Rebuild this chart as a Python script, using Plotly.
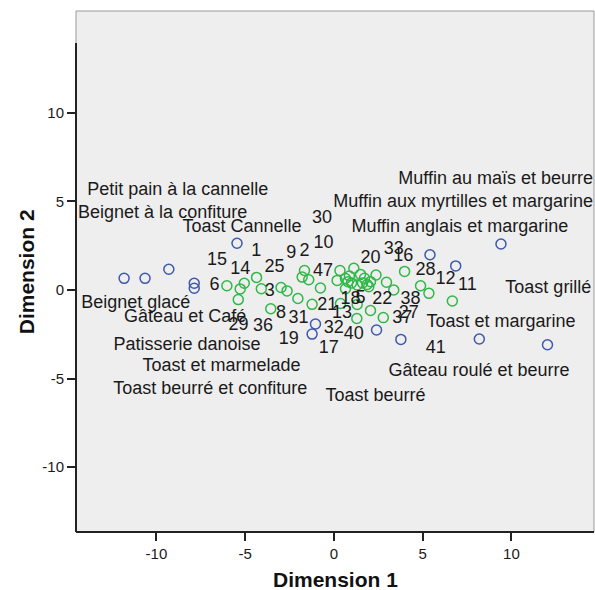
import plotly.graph_objects as go

# objets (produits) - points bleus
food_names = ['Toast Cannelle', 'Petit pain à la cannelle', 'Beignet à la confiture', 'Beignet glacé',
              'Gâteau et Café', 'Patisserie danoise', 'Toast et marmelade', 'Toast beurré et confiture',
              'Muffin au maïs et beurre', 'Muffin aux myrtilles et margarine', 'Muffin anglais et margarine',
              'Toast grillé', 'Toast et margarine', 'Gâteau roulé et beurre', 'Toast beurré']
food_x = [-5.46, -9.30, -10.64, -11.82, -7.87, -7.87, -1.04, -1.23, 9.41, 6.86, 5.41, 12.03, 8.19, 3.77, 2.40]
food_y = [2.64, 1.17, 0.66, 0.66, 0.10, 0.38, -1.92, -2.49, 2.60, 1.36, 1.99, -3.09, -2.77, -2.79, -2.26]
# positions des étiquettes (placées comme dans SPSS)
food_lab_x = [-5.18, -8.80, -9.65, -11.16, -8.38, -8.28, -6.33, -6.97, 9.11, 7.28, 7.09, 12.08, 9.41, 8.17, 2.34]
food_lab_y = [3.54, 5.61, 4.33, -0.75, -1.54, -3.16, -4.33, -5.61, 6.25, 4.93, 3.52, 0.10, -1.85, -4.61, -5.99]

# sujets - points verts
subj_x = [-6.03, -5.28, -5.05, -5.39, -4.36, -4.09, -3.56, -2.98, -2.64, -2.03, -1.66, -1.79, -1.42, -0.76,
          -1.23, 0.34, 0.18, 0.65, 1.12, 0.79, 1.50, 0.65, 1.31, 1.87, 1.96, 1.72, 2.37, 0.37, 1.31, 1.29,
          2.06, 2.78, 2.96, 3.37, 3.98, 4.88, 5.35, 6.67, 2.06, 0.99, 1.61, 0.87]
subj_y = [0.24, 0.06, 0.38, -0.54, 0.71, 0.07, -1.06, 0.14, -0.05, -0.48, 1.10, 0.73, 0.58, 0.11,
          -0.81, 1.10, 0.54, 0.65, 1.23, 0.47, 0.88, 0.07, 0.28, 0.31, 0.19, 0.66, 0.85, -0.76, -0.82, -1.61,
          -1.16, -1.56, 0.44, 0.00, 1.05, 0.24, -0.19, -0.62, 0.47, 0.40, 0.40, 0.79]

subj_labels = ['1', '15', '14', '25', '9', '2', '10', '30', '47', '6', '3', '8', '31', '29', '36', '19',
               '21', '13', '18', '5', '32', '40', '17', '20', '33', '16', '28', '22', '38', '37', '27',
               '12', '11', '41']
subj_lab_x = [-4.37, -6.59, -5.28, -3.34, -2.40, -1.66, -0.58, -0.67, -0.61, -6.73, -3.62, -2.98, -1.99,
              -5.37, -4.00, -2.55, -0.38, 0.46, 0.93, 1.50, -0.01, 1.12, -0.29, 2.06, 3.37, 3.91, 5.16,
              2.72, 4.32, 3.85, 4.22, 6.29, 7.52, 5.73]
subj_lab_y = [2.16, 1.69, 1.17, 1.26, 2.07, 2.16, 2.63, 4.05, 1.07, 0.28, -0.10, -1.32, -1.60,
              -2.03, -2.07, -2.82, -0.90, -1.32, -0.56, -0.47, -2.16, -2.54, -3.29, 1.79, 2.26, 1.88, 1.13,
              -0.56, -0.56, -1.60, -1.32, 0.60, 0.28, -3.29]

x_ticks = [-10, -5, 0, 5, 10]
y_ticks = [-10, -5, 0, 5, 10]
tick_text = ['-10', '-5', '0', '5', '10']

blue = '#3E58AC'
green = '#2EB848'
FONT = 'Liberation Sans, Arial, sans-serif'
txt = dict(family=FONT, size=18, color='#1a1a1a')

fig = go.Figure()
fig.add_trace(go.Scatter(x=subj_x, y=subj_y, mode='markers', name='Sujets',
                         marker=dict(symbol='circle-open', size=10, color=green, line=dict(width=1.5, color=green))))
fig.add_trace(go.Scatter(x=food_x, y=food_y, mode='markers', name='Objets', text=food_names,
                         marker=dict(symbol='circle-open', size=10, color=blue, line=dict(width=1.5, color=blue))))
fig.add_trace(go.Scatter(x=subj_lab_x, y=subj_lab_y, mode='text', text=subj_labels, textfont=txt,
                         textposition='middle center', hoverinfo='skip', cliponaxis=False))
fig.add_trace(go.Scatter(x=food_lab_x, y=food_lab_y, mode='text', text=food_names, textfont=txt,
                         textposition='middle center', hoverinfo='skip', cliponaxis=False))

# cadre gris + axe gauche noir (partiel, comme SPSS)
fig.add_shape(type='rect', xref='paper', yref='paper', x0=0, x1=1, y0=0, y1=1,
              line=dict(color='#9a9a9a', width=1), layer='above')
fig.add_shape(type='line', xref='paper', yref='y', x0=0, x1=0, y0=-13.67, y1=13.95,
              line=dict(color='#222222', width=2), layer='above')
fig.add_shape(type='line', xref='paper', yref='paper', x0=0, x1=1, y0=0, y1=0,
              line=dict(color='#222222', width=2), layer='above')

fig.update_xaxes(range=[-14.53, 14.65], tickvals=x_ticks, ticktext=tick_text, ticks='outside', ticklen=8,
                 tickwidth=2, tickcolor='#222222', showgrid=False, zeroline=False, showline=False,
                 automargin=False, tickfont=dict(family=FONT, size=15, color='#1a1a1a'))
fig.update_yaxes(range=[-13.67, 15.76], tickvals=y_ticks, ticktext=tick_text, ticks='outside', ticklen=8,
                 tickwidth=2, tickcolor='#222222', showgrid=False, zeroline=False, showline=False,
                 automargin=False, tickfont=dict(family=FONT, size=15, color='#1a1a1a'))

fig.add_annotation(text='<b>Dimension 1</b>', xref='paper', yref='paper', x=0.5, y=-0.092,
                   yanchor='middle', showarrow=False, font=dict(family=FONT, size=21, color='#111111'))
fig.add_annotation(text='<b>Dimension 2</b>', xref='paper', yref='paper', x=-0.095, y=0.5,
                   xanchor='center', textangle=-90, showarrow=False,
                   font=dict(family=FONT, size=21, color='#111111'))

fig.update_layout(width=595, height=590, margin=dict(l=76, r=1, t=11, b=58),
                  plot_bgcolor='#eeeeee', paper_bgcolor='white', showlegend=False)

# pas de marge de page autour de la figure, pas de barre d'outils
fig.write_html("out.html", config={'displayModeBar': False},
               post_script="document.body.style.margin='0';document.body.style.overflow='hidden';")
